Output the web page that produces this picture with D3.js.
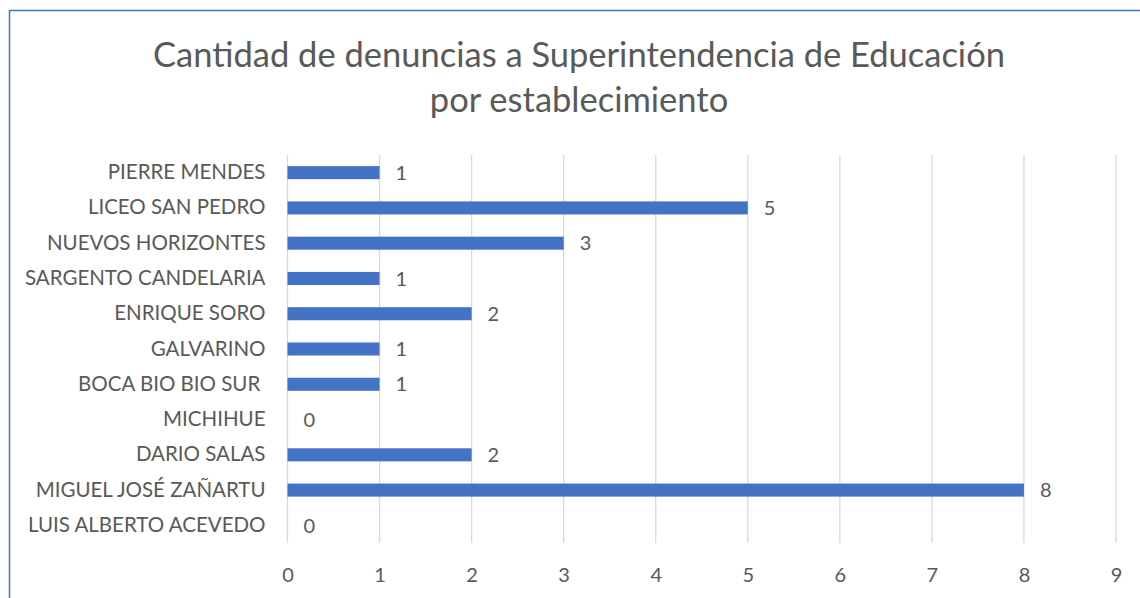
<!DOCTYPE html>
<html>
<head>
<meta charset="utf-8">
<script src="https://cdn.jsdelivr.net/npm/d3@7"></script>
<style>
  body { margin: 0; background: #fff; }
  svg text { font-family: Lato, "Open Sans", sans-serif; fill: #595959; white-space: pre; }
</style>
</head>
<body>
<div id="chart"></div>
<script>
'use strict';

// data, top to bottom as in the chart
const schools = [
  'PIERRE MENDES', 'LICEO SAN PEDRO', 'NUEVOS HORIZONTES', 'SARGENTO CANDELARIA',
  'ENRIQUE SORO', 'GALVARINO', 'BOCA BIO BIO SUR ', 'MICHIHUE', 'DARIO SALAS',
  'MIGUEL JOSÉ ZAÑARTU', 'LUIS ALBERTO ACEVEDO'
];
const complaints = [1, 5, 3, 1, 2, 1, 1, 0, 2, 8, 0];
const xTicks = [0, 1, 2, 3, 4, 5, 6, 7, 8, 9];
const titleLines = ['Cantidad de denuncias a Superintendencia de Educación', 'por establecimiento'];

const W = 1140, H = 598;
const plot = { left: 287.5, right: 1116, top: 155, bottom: 543 };
const FONT = 'Lato, "Open Sans", sans-serif';

const svg = d3.select('#chart').append('svg')
    .attr('width', W)
    .attr('height', H);

// chart frame (only left and top edges are in view)
svg.append('path')
    .attr('d', `M9.5,${H} V10.5 H${W}`)
    .attr('fill', 'none')
    .attr('stroke', '#4472C4')
    .attr('stroke-width', 1.5);

const x = d3.scaleLinear().domain([0, 9]).range([plot.left, plot.right]);
const y = d3.scaleBand().domain(schools).range([plot.top, plot.bottom]).paddingInner(0.63).paddingOuter(0.315);

// gridlines
svg.append('g')
  .selectAll('line')
  .data(xTicks)
  .join('line')
    .attr('x1', d => x(d)).attr('x2', d => x(d))
    .attr('y1', plot.top).attr('y2', plot.bottom)
    .attr('stroke', '#D9D9D9')
    .attr('stroke-width', 1.3);

// x tick labels
const xAxis = svg.append('g')
    .attr('transform', `translate(0,${plot.bottom})`)
    .call(d3.axisBottom(x).tickValues(xTicks).tickSize(0).tickPadding(25));
xAxis.select('.domain').remove();
xAxis.selectAll('text')
    .style('font-size', '20px')
    .style('font-family', FONT)
    .attr('fill', '#595959');

// category labels
const yAxis = svg.append('g')
    .attr('transform', `translate(${plot.left},0)`)
    .call(d3.axisLeft(y).tickSize(0).tickPadding(22));
yAxis.select('.domain').remove();
yAxis.selectAll('text')
    .style('font-size', '20.5px')
    .style('font-family', FONT)
    .attr('fill', '#595959');

// bars
svg.append('g')
  .selectAll('rect')
  .data(schools)
  .join('rect')
    .attr('x', x(0))
    .attr('y', d => y(d))
    .attr('width', (d, i) => x(complaints[i]) - x(0))
    .attr('height', y.bandwidth())
    .attr('fill', '#4472C4');

// value labels
svg.append('g')
  .selectAll('text')
  .data(schools)
  .join('text')
    .attr('x', (d, i) => x(complaints[i]) + 16)
    .attr('y', d => y(d) + y.bandwidth() / 2)
    .attr('dy', '0.36em')
    .style('font-size', '20px')
    .text((d, i) => complaints[i]);

// title
svg.append('g')
  .selectAll('text')
  .data(titleLines)
  .join('text')
    .attr('x', 579)
    .attr('y', (d, i) => 67 + i * 45)
    .attr('text-anchor', 'middle')
    .style('font-size', '34.5px')
    .text(d => d);
</script>
</body>
</html>
